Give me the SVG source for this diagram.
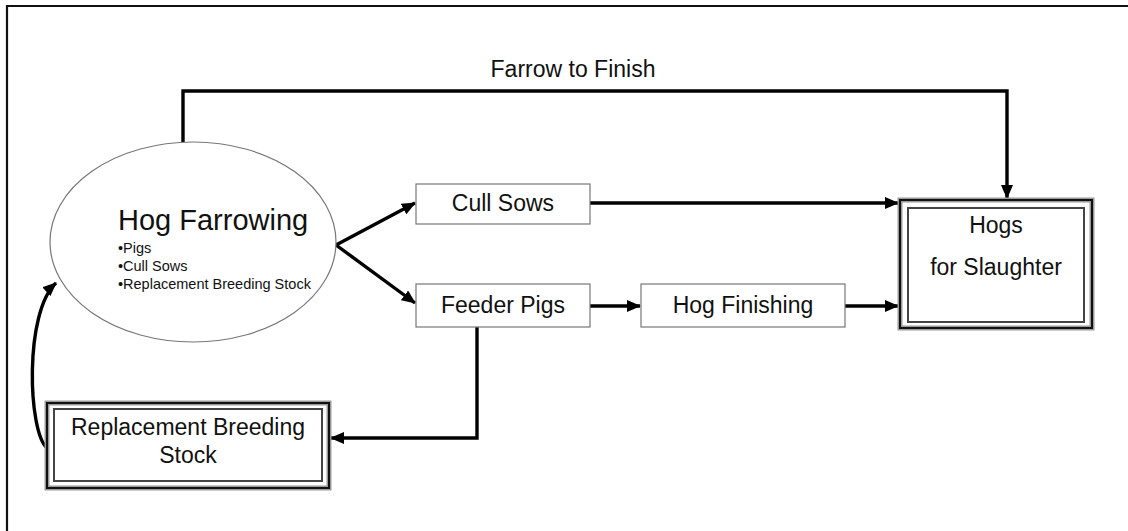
<svg xmlns="http://www.w3.org/2000/svg" width="1128" height="531" viewBox="0 0 1128 531">
<defs>
<style>
text{font-family:"Liberation Sans",Arial,sans-serif;fill:#111}
.box{fill:#fff;stroke:#777;stroke-width:1.2}
.lbl{font-size:23px;text-anchor:middle}
.conn{fill:none;stroke:#000;stroke-width:3.4}
.dblo{fill:#fff;stroke:#999;stroke-width:5}
.dblk{fill:none;stroke:#111;stroke-width:2}
.dbli{fill:none;stroke:#444;stroke-width:2}
</style>
<marker id="ah" viewBox="0 0 14 12" refX="13" refY="6" markerWidth="14" markerHeight="12" markerUnits="userSpaceOnUse" orient="auto">
<path d="M0,0 L14,6 L0,12 Z" fill="#000"/>
</marker>
</defs>
<rect width="1128" height="531" fill="#fff"/>
<path d="M7,531 L7,6 L1128,6" fill="none" stroke="#111" stroke-width="2.2"/>

<g id="connectors">
<path class="conn" d="M183,142 L183,91 L1007,91 L1007,198" marker-end="url(#ah)"/>
<path class="conn" d="M336,245 L415,203" marker-end="url(#ah)"/>
<path class="conn" d="M336,245 L415,303" marker-end="url(#ah)"/>
<path class="conn" d="M590,203 L898,203" marker-end="url(#ah)"/>
<path class="conn" d="M590,306 L640,306" marker-end="url(#ah)"/>
<path class="conn" d="M845,306 L898,306" marker-end="url(#ah)"/>
<path class="conn" d="M477,327 L477,438 L331,438" marker-end="url(#ah)"/>
<path class="conn" d="M47,448 C28,432 24,312 56,283" marker-end="url(#ah)"/>
</g>
<text x="573" y="77" class="lbl">Farrow to Finish</text>

<g id="hog-farrowing">
<ellipse cx="193" cy="242" rx="143" ry="100" fill="#fff" stroke="#777" stroke-width="1.2"/>
<text x="118" y="230" font-size="29">Hog Farrowing</text>
<text x="118" y="253" font-size="14.5">•Pigs</text>
<text x="118" y="271" font-size="14.5">•Cull Sows</text>
<text x="118" y="289" font-size="14.5">•Replacement Breeding Stock</text>
</g>

<g id="cull-sows">
<rect class="box" x="416" y="184" width="174" height="40"/>
<text x="503" y="211" class="lbl">Cull Sows</text>
</g>

<g id="feeder-pigs">
<rect class="box" x="416" y="284" width="174" height="43"/>
<text x="503" y="313" class="lbl">Feeder Pigs</text>
</g>

<g id="hog-finishing">
<rect class="box" x="641" y="284" width="204" height="43"/>
<text x="743" y="313" class="lbl">Hog Finishing</text>
</g>

<g id="hogs-for-slaughter">
<rect class="dblo" x="900" y="200" width="192" height="128"/>
<rect class="dblk" x="900" y="200" width="192" height="128"/>
<rect class="dbli" x="908" y="208" width="176" height="114"/>
<text x="996" y="233" class="lbl">Hogs</text>
<text x="996" y="275" class="lbl">for Slaughter</text>
</g>

<g id="replacement-breeding-stock">
<rect class="dblo" x="47" y="403" width="282" height="85"/>
<rect class="dblk" x="47" y="403" width="282" height="85"/>
<rect class="dbli" x="54" y="409" width="268" height="72"/>
<text x="188" y="435" class="lbl">Replacement Breeding</text>
<text x="188" y="463" class="lbl">Stock</text>
</g>
</svg>
